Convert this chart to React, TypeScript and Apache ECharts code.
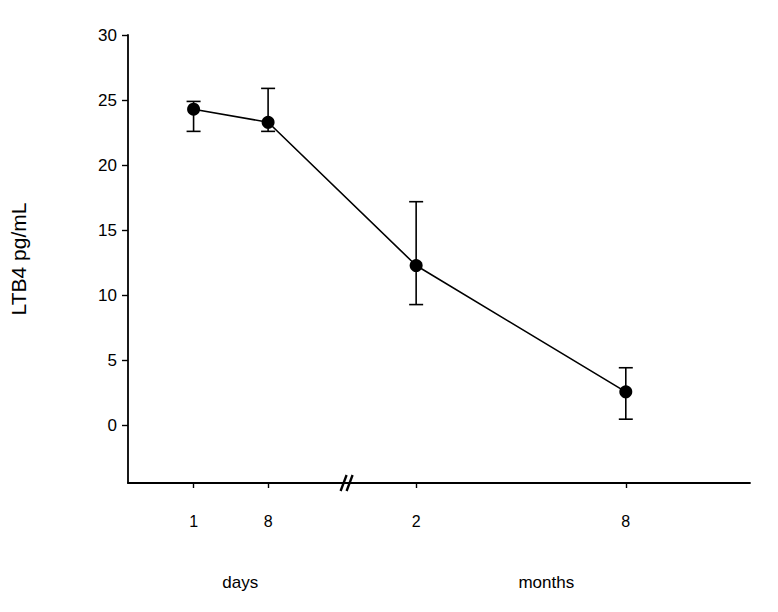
import React, { useEffect, useRef } from "react";
import * as echarts from "echarts";

// x positions (axis units) of the four time points, and of the axis break
const timeLabels = ["1", "8", "2", "8"];
const xPositions = [66, 141, 290, 501];
const meanValues = [24.3, 23.3, 12.3, 2.6];
const errLow = [22.6, 22.6, 9.3, 0.5];
const errHigh = [24.9, 25.9, 17.2, 4.45];
const yTicks = [0, 5, 10, 15, 20, 25, 30];
const groupLabels = ["days", "months"];
const groupPositions = [113, 421];
const breakPosition = 220;

const FONT = "'Liberation Sans', Arial, Helvetica, sans-serif";

export default function App() {
  const ref = useRef<HTMLDivElement>(null);
  useEffect(() => {
    if (!ref.current) return;
    const chart = echarts.init(ref.current, null, { renderer: "svg" });
    const lineData = xPositions.map((x, i) => [x, meanValues[i]]);
    const errData = xPositions.map((x, i) => [x, errLow[i], errHigh[i]]);
    const labelMap: Record<number, string> = {};
    xPositions.forEach((x, i) => (labelMap[x] = timeLabels[i]));

    chart.setOption({
      animation: false,
      backgroundColor: "#fff",
      grid: { left: 124, right: 28, top: 35, bottom: 129, containLabel: false },
      xAxis: {
        type: "value",
        min: 0,
        max: 626,
        splitLine: { show: false },
        axisLine: { show: true, onZero: false, lineStyle: { color: "#000", width: 1.8 } },
        axisTick: {
          show: true,
          customValues: xPositions,
          length: 5,
          lineStyle: { color: "#000", width: 1.4 },
        },
        axisLabel: {
          customValues: xPositions,
          margin: 30,
          color: "#000",
          fontSize: 16,
          fontFamily: FONT,
          formatter: (v: number) => labelMap[v] ?? "",
        },
      },
      yAxis: {
        type: "value",
        min: -4.4,
        max: 30,
        name: "LTB4 pg/mL",
        nameLocation: "middle",
        nameGap: 99,
        nameRotate: 90,
        nameTextStyle: { color: "#000", fontSize: 21, fontFamily: FONT },
        splitLine: { show: false },
        axisLine: { show: true, lineStyle: { color: "#000", width: 1.8 } },
        axisTick: {
          show: true,
          customValues: yTicks,
          length: 6,
          lineStyle: { color: "#000", width: 1.4 },
        },
        axisLabel: {
          customValues: yTicks,
          margin: 11,
          color: "#000",
          fontSize: 17,
          fontFamily: FONT,
        },
      },
      series: [
        {
          type: "custom",
          data: errData,
          z: 1,
          renderItem: (params: any, api: any) => {
            const x = api.value(0);
            const lo = api.coord([x, api.value(1)]);
            const hi = api.coord([x, api.value(2)]);
            const w = 7;
            const style = { stroke: "#000", lineWidth: 1.6 };
            return {
              type: "group",
              children: [
                { type: "line", shape: { x1: lo[0], y1: lo[1], x2: hi[0], y2: hi[1] }, style },
                { type: "line", shape: { x1: lo[0] - w, y1: lo[1], x2: lo[0] + w, y2: lo[1] }, style },
                { type: "line", shape: { x1: hi[0] - w, y1: hi[1], x2: hi[0] + w, y2: hi[1] }, style },
              ],
            };
          },
        },
        {
          type: "line",
          data: lineData,
          z: 2,
          symbol: "circle",
          symbolSize: 13,
          itemStyle: { color: "#000" },
          lineStyle: { color: "#000", width: 1.6 },
        },
      ],
    });

    const axisY = chart.convertToPixel({ gridIndex: 0 } as any, [0, -4.4])[1];
    const bx = chart.convertToPixel({ gridIndex: 0 } as any, [breakPosition, -4.4])[0];
    const graphics: any[] = [];
    [-3, 3].forEach((off) => {
      graphics.push({
        type: "line",
        shape: { x1: bx + off - 3, y1: axisY + 8, x2: bx + off + 3, y2: axisY - 8 },
        style: { stroke: "#000", lineWidth: 2.4 },
      });
    });
    groupLabels.forEach((t, i) => {
      const gx = chart.convertToPixel({ gridIndex: 0 } as any, [groupPositions[i], 0])[0];
      graphics.push({
        type: "text",
        x: gx,
        y: 582,
        style: {
          text: t,
          fill: "#000",
          fontSize: 17,
          fontFamily: FONT,
          align: "center",
          verticalAlign: "middle",
        },
      });
    });
    chart.setOption({ graphic: graphics });

    return () => chart.dispose();
  }, []);
  return (
    <div
      ref={ref}
      style={{ position: "fixed", left: 0, top: 0, width: 778, height: 612, background: "#fff" }}
    />
  );
}
